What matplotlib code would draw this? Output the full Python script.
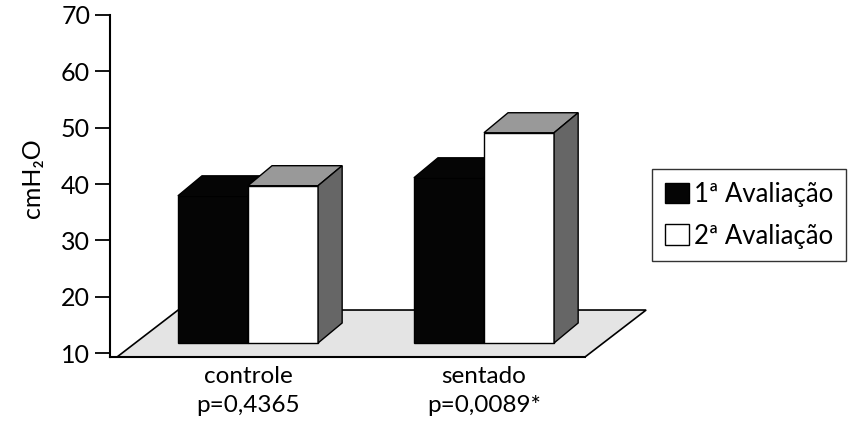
import matplotlib
matplotlib.use('Agg')
import matplotlib.pyplot as plt
from matplotlib.patches import Polygon, Patch

plt.rcParams['font.family'] = ['Lato', 'DejaVu Sans']

# dados
grupos = ['controle\np=0,4365', 'sentado\np=0,0089*']
aval1 = [37.9, 41.1]
aval2 = [39.7, 49.1]
series = ['1ª Avaliação', '2ª Avaliação']
yticks = [10, 20, 30, 40, 50, 60, 70]

# geometria do "3D"
W = 0.297        # largura de cada barra
DX, DY = 0.102, 3.55   # profundidade
BASE = 11.78
FLOOR_Y0, FLOOR_Y1 = 9.29, 17.63
FLOOR_X0, FLOOR_X1 = -0.555, 1.428
FLOOR_DX = 0.259


def bar3d(ax, x0, h, front, top, side):
    x1 = x0 + W
    ax.bar(x0, h - BASE, width=W, bottom=BASE, align='edge',
           color=front, edgecolor='black', linewidth=1, zorder=3)
    ax.add_patch(Polygon([(x0, h), (x0 + DX, h + DY), (x1 + DX, h + DY), (x1, h)],
                         closed=True, facecolor=top, edgecolor='black', lw=1, zorder=3))
    ax.add_patch(Polygon([(x1, BASE), (x1 + DX, BASE + DY), (x1 + DX, h + DY), (x1, h)],
                         closed=True, facecolor=side, edgecolor='black', lw=1, zorder=3))


fig = plt.figure(figsize=(8.54, 4.23), dpi=100)
ax = fig.add_axes([110 / 854, 1 - 357 / 423, 540 / 854, 342 / 423])
ax.set_xlim(-0.5847, 1.7034)
ax.set_ylim(FLOOR_Y0, 70)

# chão
floor = Polygon([(FLOOR_X0, FLOOR_Y0), (FLOOR_X0 + FLOOR_DX, FLOOR_Y1),
                 (FLOOR_X1 + FLOOR_DX, FLOOR_Y1), (FLOOR_X1, FLOOR_Y0)],
                closed=True, facecolor='#e4e4e4', edgecolor='black', lw=1.2, zorder=1)
ax.add_patch(floor)
ax.plot([ax.get_xlim()[0], FLOOR_X1], [FLOOR_Y0, FLOOR_Y0], color='black', lw=1.5,
        zorder=2, clip_on=False)

for i in range(len(grupos)):
    bar3d(ax, i - W, aval1[i], '#050505', '#050505', '#050505')
    bar3d(ax, i, aval2[i], 'white', '#999999', '#666666')

for s in ['top', 'right', 'bottom']:
    ax.spines[s].set_visible(False)
ax.spines['left'].set_linewidth(1.5)
ax.set_yticks(yticks)
ax.tick_params(axis='y', direction='out', length=10.8, width=1.3, pad=3.5, labelsize=18)
ax.set_xticks([])

for i, g in enumerate(grupos):
    ax.text(i, FLOOR_Y0 - 1.6, g, ha='center', va='top', fontsize=17.5, linespacing=1.45)

fig.text(33 / 854, 1 - 178 / 423, 'cmH₂O', rotation=90, ha='center', va='center', fontsize=18)

handles = [Patch(facecolor='#050505', edgecolor='black'),
           Patch(facecolor='white', edgecolor='black')]
leg = fig.legend(handles, series, loc='upper left', bbox_to_anchor=(652 / 854, 1 - 169 / 423),
                 fontsize=18.5, frameon=True, fancybox=False, edgecolor='black',
                 handlelength=0.95, handleheight=0.85, handletextpad=0.2,
                 labelspacing=0.65, borderpad=0.5, borderaxespad=0)
leg.get_frame().set_linewidth(1.0)

plt.savefig('out.png', dpi=100)
